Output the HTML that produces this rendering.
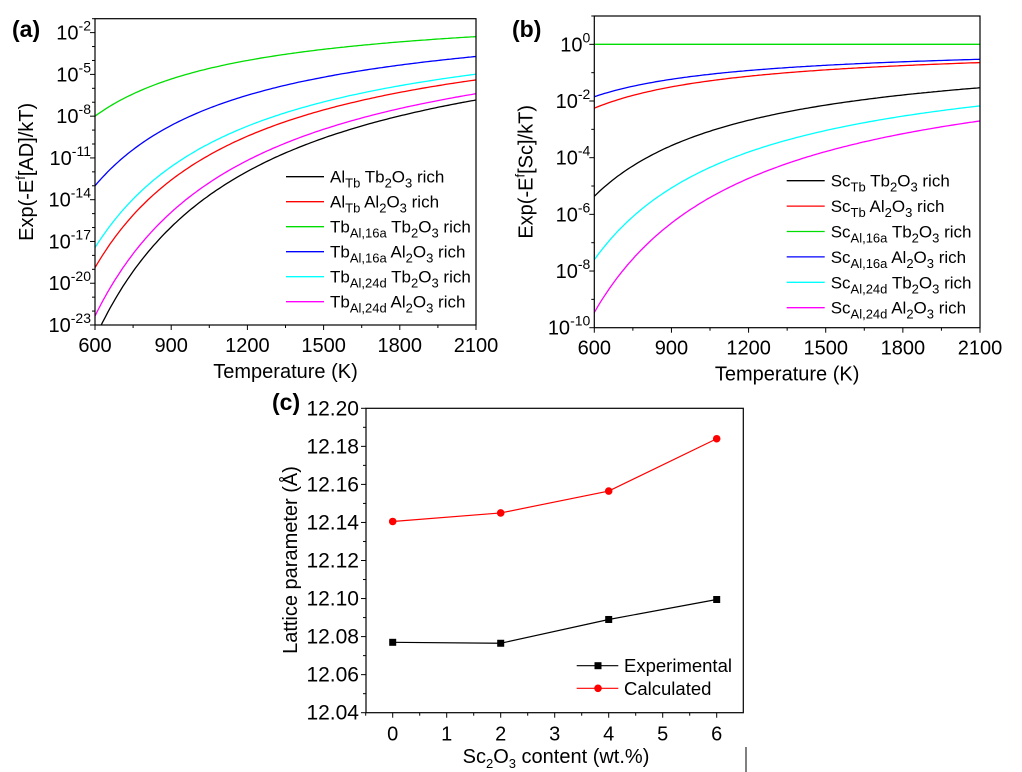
<!DOCTYPE html>
<html><head><meta charset="utf-8"><style>
html,body{margin:0;padding:0;background:#fff}
svg{display:block;font-family:"Liberation Sans",Arial,sans-serif}
</style></head><body>
<svg id="s" width="1022" height="772" viewBox="0 0 1022 772" xmlns="http://www.w3.org/2000/svg"></svg>
<script>
var s=document.getElementById('s'),h='';
function T(x,y,t,o){o=o||{};h+='<text x="'+x+'" y="'+y+'" font-size="'+(o.fs||16)+'"'+(o.a?' text-anchor="'+o.a+'"':'')+(o.b?' font-weight="bold"':'')+(o.tr?' transform="'+o.tr+'"':'')+'>'+t+'</text>';}
function L(x1,y1,x2,y2,c,w){h+='<line x1="'+x1+'" y1="'+y1+'" x2="'+x2+'" y2="'+y2+'" stroke="'+(c||'#000')+'" stroke-width="'+(w||1)+'"/>';}
var sub=function(t){return '<tspan dy="5" font-size="13">'+t+'</tspan><tspan dy="-5">';};
function logPanel(x0,x1,y0,y1,lmin,lmax,ticks,curves,leg,lx,ly,dy,ytitle,id){
  var X=function(t){return x0+(t-600)/1500*(x1-x0)},Y=function(l){return y1-(l-lmin)/(lmax-lmin)*(y1-y0)};
  h+='<clipPath id="'+id+'"><rect x="'+x0+'" y="'+y0+'" width="'+(x1-x0)+'" height="'+(y1-y0)+'"/></clipPath>';
  curves.forEach(function(c){var p='';for(var t=600;t<=2100;t+=10){p+=(p?'L':'M')+X(t).toFixed(1)+','+Y(-c[0]/t).toFixed(1);}
    h+='<path d="'+p+'" fill="none" stroke="'+c[1]+'" stroke-width="1.3" clip-path="url(#'+id+')"/>';});
  h+='<rect x="'+x0+'" y="'+y0+'" width="'+(x1-x0)+'" height="'+(y1-y0)+'" fill="none" stroke="#000" stroke-width="1.2"/>';
  for(var t=600;t<=2100;t+=150){var maj=(t-600)%300==0;L(X(t),y1,X(t),y1+(maj?5:3));if(maj)T(X(t),y1+27,t,{a:'middle',fs:20});}
  for(var l=Math.ceil(lmin);l<=lmax;l++){var maj=ticks.indexOf(l)>=0;L(x0,Y(l),x0-(maj?5:3),Y(l));
    if(maj)h+='<text x="'+(x0-4)+'" y="'+(Y(l)+7)+'" font-size="20" text-anchor="end">10<tspan dy="-9" font-size="14">'+l+'</tspan></text>';}
  T((x0+x1)/2,y1+53,'Temperature (K)',{a:'middle',fs:20});
  T(0,0,ytitle,{a:'middle',fs:20,tr:'translate('+(x0-62)+','+((y0+y1)/2)+') rotate(-90)'});
  leg.forEach(function(g,i){var y=ly+i*dy;L(lx,y,lx+38,y,g[0],1.3);h+='<text x="'+(lx+44)+'" y="'+(y+6)+'" font-size="17">'+g[1]+'</text>';});
}
var O3=function(a){return a+sub('2')+'O'+sub('3')+' rich</tspan></tspan>';};
function lg(a,b,c){return a+sub(b)+' '+O3(c)+'</tspan>';}
logPanel(95,476,18.7,325,-23,-1,[-2,-5,-8,-11,-14,-17,-20,-23],
 [[4800,'#00dd00'],[7800,'#0000ff'],[10466,'#00ffff'],[11330,'#ff0000'],[13415,'#ff00ff'],[14364,'#000']],
 [['#000',lg('Al','Tb','Tb')],['#f00',lg('Al','Tb','Al')],['#00dd00',lg('Tb','Al,16a','Tb')],['#00f',lg('Tb','Al,16a','Al')],['#0ff',lg('Tb','Al,24d','Tb')],['#f0f',lg('Tb','Al,24d','Al')]],
 286,176.7,25,'Exp(-E<tspan dy="-8" font-size="13">f</tspan><tspan dy="8">[AD]/kT)</tspan>','ca');
logPanel(594.3,980,16,327.7,-10,1,[0,-2,-4,-6,-8,-10],
 [[0.01,'#00dd00'],[1109,'#0000ff'],[1352,'#ff0000'],[3217,'#000'],[4561,'#00ffff'],[5678,'#ff00ff']],
 [['#000',lg('Sc','Tb','Tb')],['#f00',lg('Sc','Tb','Al')],['#00dd00',lg('Sc','Al,16a','Tb')],['#00f',lg('Sc','Al,16a','Al')],['#0ff',lg('Sc','Al,24d','Tb')],['#f0f',lg('Sc','Al,24d','Al')]],
 786.7,180.7,25.4,'Exp(-E<tspan dy="-8" font-size="13">f</tspan><tspan dy="8">[Sc]/kT)</tspan>','cb');
T(12,37,'(a)',{fs:23,b:1});T(512,37,'(b)',{fs:23,b:1});T(272,410,'(c)',{fs:23,b:1});
var cx0=366,cx1=743.3,cy0=408.3,cy1=712.7;
var CX=function(v){return 392.7+v*54},CY=function(v){return cy1-(v-12.04)/0.16*(cy1-cy0)};
h+='<rect x="'+cx0+'" y="'+cy0+'" width="'+(cx1-cx0)+'" height="'+(cy1-cy0)+'" fill="none" stroke="#000" stroke-width="1.2"/>';
for(var v=0;v<=6;v++){L(CX(v),cy1,CX(v),cy1+5);T(CX(v),cy1+28,v,{a:'middle',fs:20});if(v<6)L(CX(v+0.5),cy1,CX(v+0.5),cy1+3);}
L(CX(-0.5),cy1,CX(-0.5),cy1+3);
for(var i=0;i<=16;i++){var v=12.04+i*0.01,maj=i%2==0;L(cx0,CY(v),cx0-(maj?5:3),CY(v));if(maj)T(cx0-7,CY(v)+7,v.toFixed(2),{a:'end',fs:21});}
var ex=[12.077,12.0765,12.089,12.0995],ca=[12.1405,12.145,12.1565,12.184];
function ser(d,c,m){var p='';d.forEach(function(v,i){p+=(i?'L':'M')+CX(i*2)+','+CY(v);});h+='<path d="'+p+'" fill="none" stroke="'+c+'" stroke-width="1.2"/>';
 d.forEach(function(v,i){if(m)h+='<rect x="'+(CX(i*2)-3.5)+'" y="'+(CY(v)-3.5)+'" width="7" height="7" fill="'+c+'"/>';else h+='<circle cx="'+CX(i*2)+'" cy="'+CY(v)+'" r="3.8" fill="'+c+'"/>';});}
ser(ex,'#000',1);ser(ca,'#f00',0);
L(576.7,665.7,618.3,665.7,'#000',1.2);h+='<rect x="594.5" y="662.2" width="7" height="7"/>';T(624,672,'Experimental',{fs:18.5});
L(576.7,688.3,618.3,688.3,'#f00',1.2);h+='<circle cx="598" cy="688.3" r="3.8" fill="#f00"/>';T(624,695,'Calculated',{fs:18.5});
T(556,763,'Sc'+sub('2')+'O'+sub('3')+' content (wt.%)</tspan></tspan>',{a:'middle',fs:20});
T(0,0,'Lattice parameter (Å)',{a:'middle',fs:20,tr:'translate(297,560) rotate(-90)'});
L(746,747,746,772,'#000',1);
s.innerHTML=h;
</script>
</body></html>
